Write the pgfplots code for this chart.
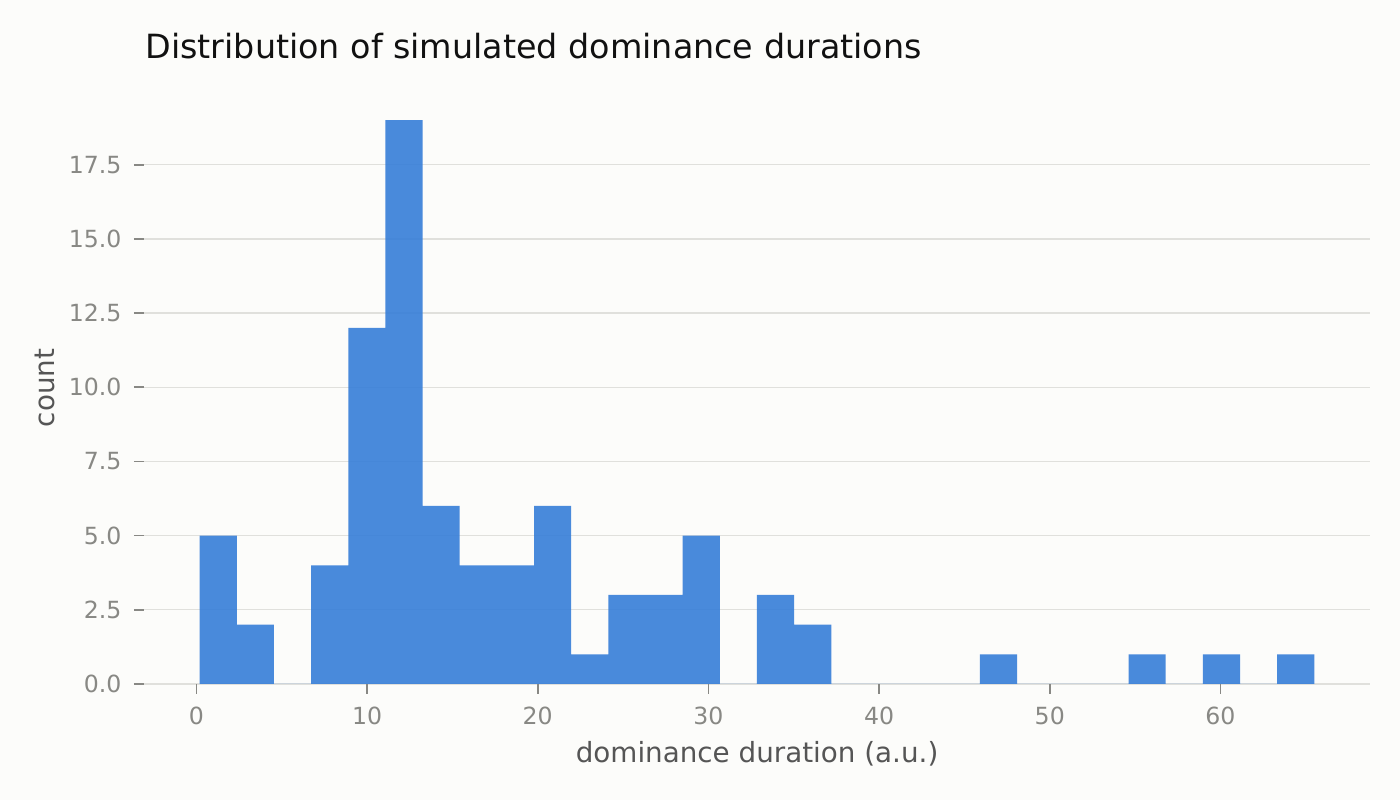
\documentclass[border=0pt]{standalone}
\usepackage{fontspec}
\setmainfont{DejaVu Sans}
\usepackage{pgfplots}
\pgfplotsset{compat=1.18}

\definecolor{bgcol}{HTML}{FCFCFA}
\definecolor{barcol}{RGB}{54,126,216}
\definecolor{gridcol}{HTML}{E0E0DC}
\definecolor{tickcol}{HTML}{888884}
\definecolor{labcol}{HTML}{555555}
\definecolor{titlecol}{HTML}{111111}

\begin{document}
\begin{tikzpicture}
% canvas
\fill[bgcol] (0pt,0pt) rectangle (504pt,288pt);
\begin{axis}[
  at={(51.84pt,41.76pt)}, anchor=south west,
  scale only axis,
  width=441.4pt, height=213.1pt,
  xmin=-3.07, xmax=68.77,
  ymin=0, ymax=19.95,
  axis line style={draw=none},
  xtick={0,10,...,60},
  ytick={0,2.5,...,17.5},
  y tick label style={/pgf/number format/fixed,/pgf/number format/fixed zerofill,/pgf/number format/precision=1},
  /pgf/number format/assume math mode=true,
  xtick pos=bottom, ytick pos=left,
  tick align=outside,
  major tick length=3.6pt,
  tick style={color=tickcol, line width=0.6pt},
  ticklabel style={font=\fontsize{8.5}{10}\selectfont, text=tickcol},
  x tick label style={yshift=-1pt},
  y tick label style={xshift=-1pt},
  ymajorgrids,
  major grid style={color=gridcol, line width=0.5pt},
  xlabel={dominance duration (a.u.)},
  ylabel={count},
  label style={font=\fontsize{10}{12}\selectfont, text=labcol},
  xlabel style={yshift=0.6pt},
  ylabel style={yshift=-2pt},
]
% histogram: 30 bins of width 2.177 starting at 0.19
\addplot[ybar interval, fill=barcol, fill opacity=0.9, draw=none] coordinates {
  (0.190,5) (2.367,2) (4.544,0) (6.721,4) (8.898,12)
  (11.075,19) (13.252,6) (15.429,4) (17.606,4) (19.783,6)
  (21.960,1) (24.137,3) (26.314,3) (28.491,5) (30.668,0)
  (32.845,3) (35.022,2) (37.199,0) (39.376,0) (41.553,0)
  (43.730,0) (45.907,1) (48.084,0) (50.261,0) (52.438,0)
  (54.615,1) (56.792,0) (58.969,1) (61.146,0) (63.323,1)
  (65.500,1)
};
\end{axis}
\node[anchor=base west, font=\fontsize{12}{14}\selectfont, text=titlecol, inner sep=0pt]
  at (52.2pt,266.8pt) {Distribution of simulated dominance durations};
\end{tikzpicture}
\end{document}
